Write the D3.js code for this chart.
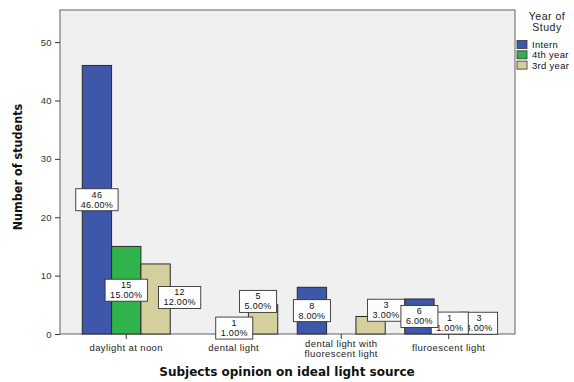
<!DOCTYPE html>
<html>
<head>
<meta charset="utf-8">
<script src="https://cdn.jsdelivr.net/npm/d3@7"></script>
<style>
  html, body { margin: 0; padding: 0; background: #fff; }
  svg { display: block; }
  text { font-family: "Liberation Sans", Arial, sans-serif; }
</style>
</head>
<body>
<svg id="chart" width="574" height="382"></svg>
<script>
// Survey responses: preferred light source by year of study
const categories = ["daylight at noon", "dental light", "dental light with fluorescent light", "fluroescent light"];
const categoryLines = [["daylight at noon"], ["dental light"], ["dental light with", "fluorescent light"], ["fluroescent light"]];
const seriesNames = ["Intern", "4th year", "3rd year"];
const internCounts = [46, 0, 8, 6];
const fourthYearCounts = [15, 1, 0, 1];
const thirdYearCounts = [12, 5, 3, 3];
const yTicks = [0, 10, 20, 30, 40, 50];

const seriesValues = [internCounts, fourthYearCounts, thirdYearCounts];
const colors = ["#3e57a8", "#31b34b", "#d4cf9c"];
const total = d3.sum(seriesValues.flat());

// Label nudges (dx, dy) so neighbouring value boxes stay readable
const labelNudge = {
  "4th year|dental light": [0.5, -3],
  "4th year|fluroescent light": [1, -8],
  "3rd year|daylight at noon": [24, -1.5],
  "3rd year|dental light": [-5, -18],
  "3rd year|dental light with fluorescent light": [15.5, -15],
  "3rd year|fluroescent light": [1, -2]
};

const svg = d3.select("#chart");
const plot = { left: 60, right: 515, top: 10, bottom: 334 };

const x = d3.scaleBand()
  .domain(categories)
  .range([plot.left, plot.right])
  .paddingInner(0.1814)
  .paddingOuter(0.207);
const xs = d3.scaleBand().domain(seriesNames).range([0, x.bandwidth()]).padding(0);
const y = d3.scaleLinear().domain([0, 55.5]).range([plot.bottom, plot.top]);

// Plot background
svg.append("rect")
  .attr("x", plot.left).attr("y", plot.top)
  .attr("width", plot.right - plot.left).attr("height", plot.bottom - plot.top)
  .attr("fill", "#f0f0f0").attr("stroke", "#7a7a7a").attr("stroke-width", 1.2);

// Bars
const rows = [];
seriesNames.forEach((s, si) => {
  categories.forEach((c, ci) => {
    rows.push({ series: s, si, category: c, ci, value: seriesValues[si][ci] });
  });
});
const bars = rows.filter(d => d.value > 0);

svg.append("g").selectAll("rect").data(bars).join("rect")
  .attr("x", d => x(d.category) + xs(d.series))
  .attr("y", d => y(d.value))
  .attr("width", xs.bandwidth())
  .attr("height", d => y(0) - y(d.value))
  .attr("fill", d => colors[d.si])
  .attr("stroke", "#2a2a2a").attr("stroke-width", 1);

// Y axis
const yAxis = svg.append("g").attr("transform", `translate(${plot.left},0)`)
  .call(d3.axisLeft(y).tickValues(yTicks).tickSize(5).tickPadding(3));
yAxis.select(".domain").remove();
yAxis.selectAll("line").attr("stroke", "#333");
yAxis.selectAll("text").attr("font-size", 9.5).attr("fill", "#333")
  .style("font-family", "'Liberation Sans', Arial, sans-serif").style("letter-spacing", "0.4px");

// X axis ticks and category labels
const xAxis = svg.append("g").attr("transform", `translate(0,${plot.bottom})`)
  .call(d3.axisBottom(x).tickSize(5).tickFormat(""));
xAxis.select(".domain").remove();
xAxis.selectAll("line").attr("stroke", "#333");

svg.append("g").selectAll("text").data(categories).join("text")
  .attr("x", d => x(d) + x.bandwidth() / 2)
  .attr("y", 350.5)
  .attr("text-anchor", "middle")
  .attr("font-size", 9.5)
  .attr("fill", "#222")
  .style("letter-spacing", "0.4px")
  .each(function(d, i) {
    const t = d3.select(this);
    categoryLines[i].forEach((line, li) => {
      t.append("tspan").attr("x", x(d) + x.bandwidth() / 2)
        .attr("dy", li === 0 ? (categoryLines[i].length > 1 ? -4 : 0) : 10)
        .text(line);
    });
  });

// Value labels: count and share of all respondents, in white boxes
const labelOrder = bars.slice().sort((a, b) => b.si - a.si || a.ci - b.ci);
const labels = svg.append("g").selectAll("g").data(labelOrder).join("g")
  .attr("transform", d => {
    const n = labelNudge[d.series + "|" + d.category] || [0, 0];
    const cx = x(d.category) + xs(d.series) + xs.bandwidth() / 2 + n[0];
    const cy = y(d.value / 2) + n[1];
    return `translate(${cx},${cy})`;
  });
labels.append("rect").attr("fill", "#fff").attr("stroke", "#333").attr("stroke-width", 0.9);
labels.append("text")
  .attr("text-anchor", "middle")
  .attr("font-size", 9)
  .attr("fill", "#111")
  .style("letter-spacing", "0.3px")
  .each(function(d) {
    const t = d3.select(this);
    t.append("tspan").attr("x", 0).attr("y", -2).text(d.value);
    t.append("tspan").attr("x", 0).attr("y", 8).text(d3.format(".2f")(d.value / total * 100) + "%");
  });
labels.each(function() {
  const g = d3.select(this);
  const w = g.select("text").node().getBBox().width + 10;
  g.select("rect").attr("x", -w / 2).attr("y", -11).attr("width", w).attr("height", 22);
});

// Axis titles
svg.append("text")
  .attr("transform", `translate(22,167) rotate(-90)`)
  .attr("text-anchor", "middle")
  .attr("font-size", 12.5)
  .attr("font-weight", "bold")
  .attr("fill", "#111")
  .style("font-family", "'DejaVu Sans Condensed', 'Liberation Sans Narrow', sans-serif")
  .text("Number of students");

svg.append("text")
  .attr("x", 287).attr("y", 376)
  .attr("text-anchor", "middle")
  .attr("font-size", 12)
  .attr("font-weight", "bold")
  .attr("fill", "#111")
  .style("font-family", "'DejaVu Sans', Verdana, sans-serif")
  .text("Subjects opinion on ideal light source");

// Legend
const legend = svg.append("g");
legend.append("text").attr("x", 547).attr("y", 20).attr("text-anchor", "middle")
  .attr("font-size", 10.5).attr("fill", "#222").style("letter-spacing", "0.5px").text("Year of");
legend.append("text").attr("x", 547).attr("y", 31).attr("text-anchor", "middle")
  .attr("font-size", 10.5).attr("fill", "#222").style("letter-spacing", "0.5px").text("Study");
const items = legend.selectAll("g.item").data(seriesNames).join("g")
  .attr("class", "item")
  .attr("transform", (d, i) => `translate(517,${40.5 + i * 10.3})`);
items.append("rect").attr("width", 10).attr("height", 8)
  .attr("fill", (d, i) => colors[i]).attr("stroke", "#333").attr("stroke-width", 0.8);
items.append("text").attr("x", 15).attr("y", 7.5).attr("font-size", 9.5)
  .attr("fill", "#111").style("letter-spacing", "0.3px").text(d => d);
</script>
</body>
</html>
